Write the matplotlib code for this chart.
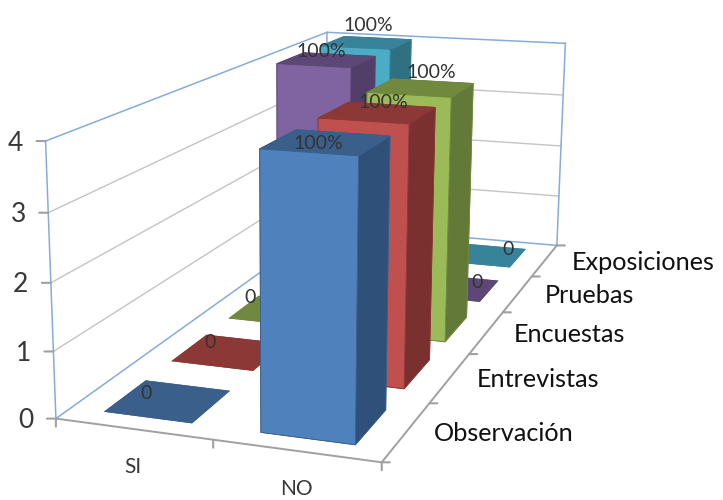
import matplotlib
matplotlib.use("Agg")
import matplotlib.pyplot as plt
import numpy as np
from matplotlib.lines import Line2D
from mpl_toolkits.mplot3d import proj3d

# Data
answers = ["SI", "NO"]
methods = ["Observación", "Entrevistas", "Encuestas", "Pruebas", "Exposiciones"]
si_counts = [0, 0, 0, 4, 4]
no_counts = [4, 4, 4, 0, 0]
z_ticks = [0, 1, 2, 3, 4]

# Face colours per method
front_colors = ["#4F81BD", "#C0504D", "#9BBB59", "#8064A2", "#4BACC6"]
top_colors = ["#3A5F8B", "#8C3836", "#71893F", "#5C4776", "#36839A"]
side_colors = ["#2F5079", "#7A302E", "#637937", "#513E69", "#2F7081"]

# Pixel nudges for the value labels, per method
tall_nudge = [(-8, -1), (6, 10), (10, 15), (-5, 8), (2, 17)]
flat_nudge = [(-22, 8), (-19, 10), (-31, 13), (25, 5), (25, 5)]

BAR_X = 0.57
BAR_Y = 0.60
WALL = "#86ABDC"
GRID = "#C4C4C4"
AXIS = "#A0A0A0"
TEXT = "#383838"

plt.rcParams["font.family"] = ["Lato", "DejaVu Sans"]

fig = plt.figure(figsize=(7.23, 5.0), dpi=100)
ax = fig.add_axes([-0.1, -0.5, 1.2, 2.0], projection="3d")
ax.set_axis_off()
ax.computed_zorder = False
ax.apply_aspect()

# Camera: where box points should land on the 723x500 canvas, (x, y, z) -> (px, py)
anchors = [
    ((0, 0, 0), (56, 418)), ((1, 0, 0), (213, 440)), ((2, 0, 0), (380, 462)),
    ((2, 1, 0), (430, 403)), ((2, 2, 0), (470, 354)), ((2, 3, 0), (504, 312)),
    ((2, 4, 0), (532, 277)), ((2, 5, 0), (557, 245)),
    ((0, 0, 1), (53, 352)), ((0, 0, 2), (51, 283)), ((0, 0, 3), (48, 212)), ((0, 0, 4), (46, 142)),
    ((2, 5, 1), (558, 197)), ((2, 5, 2), (560, 146)), ((2, 5, 3), (563, 95)), ((2, 5, 4), (566, 43)),
    ((0, 5, 4), (327, 32)),
]


def solve_camera(points):
    to_data = ax.transData.inverted()
    rows = []
    for (x, y, z), (px, py) in points:
        u, v = to_data.transform((px, 500 - py))
        rows.append([x, y, z, 1, 0, 0, 0, 0, -u * x, -u * y, -u * z, -u])
        rows.append([0, 0, 0, 0, x, y, z, 1, -v * x, -v * y, -v * z, -v])
    p = np.linalg.svd(np.array(rows))[2][-1].reshape(3, 4)
    p /= p[2] @ np.array([1, 2.5, 2, 1])
    depth = p[2] - np.array([0, 0, 0, 0.5])
    return np.vstack([p[0], p[1], depth, p[2]])


camera = solve_camera(anchors)
ax.get_proj = lambda: camera


def screen(x, y, z):
    u, v, _ = proj3d.proj_transform(x, y, z, camera)
    return u, v


def line3(xs, ys, zs, color, lw, zorder):
    us, vs = screen(np.array(xs, float), np.array(ys, float), np.array(zs, float))
    ax.add_line(Line2D(us, vs, color=color, lw=lw, zorder=zorder))


def label(x, y, z, text, dx=0, dy=0, size=16, color=TEXT, ha="center"):
    ax.annotate(text, xy=screen(x, y, z), xytext=(dx, dy), textcoords="offset pixels",
                ha=ha, va="center", fontsize=size, color=color, annotation_clip=False, zorder=30)


def tick(x, y, z, dx, dy):
    ax.annotate("", xy=screen(x, y, z), xytext=(dx, dy), textcoords="offset pixels", annotation_clip=False,
                arrowprops=dict(arrowstyle="-", color=AXIS, lw=1.5, shrinkA=0, shrinkB=0), zorder=6)


n = len(methods)
z_top = z_ticks[-1]

# Gridlines on the two walls
for z in z_ticks[1:-1]:
    line3([0, 0, 2], [0, n, n], [z, z, z], GRID, 1, 1)

# Wall frame
for z in (0, z_top):
    line3([0, 0, 2], [0, n, n], [z, z, z], WALL, 1.1, 2)
line3([0, 0], [0, 0], [0, z_top], WALL, 1.1, 2)
line3([0, 0], [n, n], [0, z_top], WALL, 1.1, 2)
line3([2, 2], [n, n], [0, z_top], WALL, 1.1, 2)

# Floor axes
line3([0, 2, 2], [0, 0, n], [0, 0, 0], AXIS, 1.4, 3)
for z in z_ticks:
    tick(0, 0, z, -9, 0)
    label(0, 0, z, str(z), dx=-30, dy=-2, size=19)
for i in range(len(answers) + 1):
    tick(i, 0, 0, 0, -8)
for i in range(n + 1):
    tick(2, i, 0, 8, 0)
for i, name in enumerate(answers):
    label(i + 0.5, 0, 0, name, dy=-38, size=15)
for i, name in enumerate(methods):
    label(2, i + 0.5, 0, name, dx=27, dy=-2, size=18.2, color="#111111", ha="left")


def draw_bar(col, row, height, zorder):
    x = col + (1 - BAR_X) / 2
    y = row + (1 - BAR_Y) / 2
    top = top_colors[row]
    # face order: bottom, top, front, back, left, right
    colors = [top, top, front_colors[row], top, top, side_colors[row]]
    ax.bar3d([x], [y], [0], [BAR_X], [BAR_Y], [height], color=colors, shade=False,
             edgecolor=top if height > 0 else "none", linewidth=0.6, zorder=zorder)


# Flat bars go first, tall ones from back to front
for row in range(n):
    for col, counts in enumerate((si_counts, no_counts)):
        if counts[row] == 0:
            draw_bar(col, row, 0, 5)
for row in range(n - 1, -1, -1):
    for col, counts in enumerate((si_counts, no_counts)):
        if counts[row] > 0:
            draw_bar(col, row, counts[row], 10 + n - row)

# Value labels
for row in range(n):
    total = si_counts[row] + no_counts[row]
    for col, counts in enumerate((si_counts, no_counts)):
        v = counts[row]
        if v > 0:
            dx, dy = tall_nudge[row]
            label(col + 0.5, row + 0.5, v, f"{v / total:.0%}", dx=dx, dy=dy, size=14, color="#333333")
        else:
            dx, dy = flat_nudge[row]
            label(col + 0.5, row + 0.5, 0, "0", dx=dx, dy=dy, size=14, color="#333333")

fig.savefig("out.png", dpi=100)
